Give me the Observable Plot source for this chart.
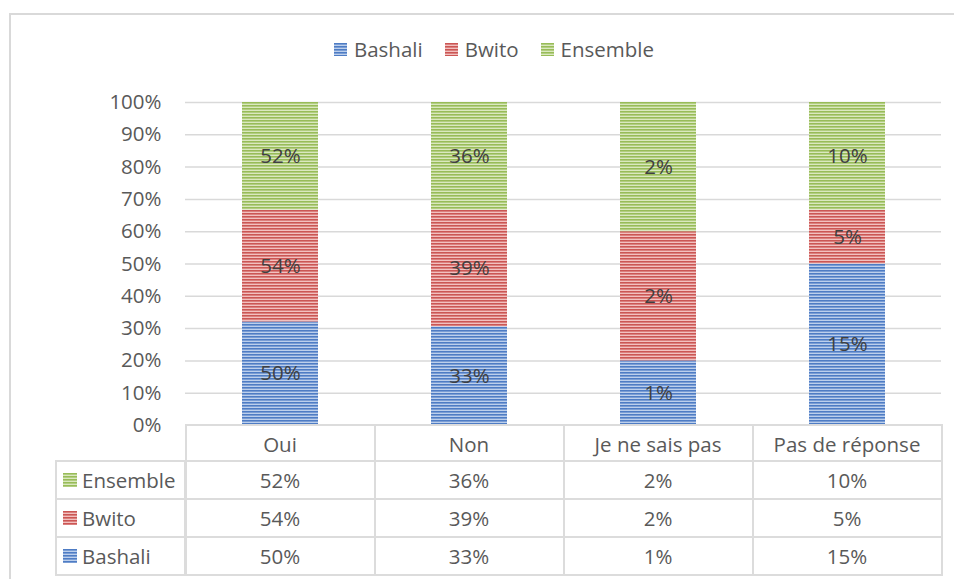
<!DOCTYPE html>
<html>
<head>
<meta charset="utf-8">
<script src="https://cdn.jsdelivr.net/npm/d3@7"></script>
<script src="https://cdn.jsdelivr.net/npm/@observablehq/plot@0.6"></script>
<style>
  html, body { margin: 0; padding: 0; background: #fff; }
  body { font-family: "Open Sans", "Liberation Sans", sans-serif; color: #595959; }
  #wrap { position: relative; width: 954px; height: 579px; overflow: hidden; }
  #frame { position: absolute; left: 9px; top: 13px; width: 960px; height: 600px; border-left: 2px solid #d9d9d9; border-top: 2px solid #d9d9d9; box-sizing: border-box; }
  #legend { position: absolute; top: 35px; left: 0; width: 988px; display: flex; justify-content: center; gap: 22px; font-size: 20.5px; }
  #legend .item { display: flex; align-items: center; gap: 7px; }
  #chart { position: absolute; left: 0; top: 0; }
  .cell { position: absolute; box-sizing: border-box; border: 2px solid #dcdcdc; display: flex; align-items: center; justify-content: center; font-size: 20.5px; color: #595959; background: #fff; }
  .cell.lab { justify-content: flex-start; padding-left: 6px; gap: 5px; }
  svg.sw { flex: none; }
</style>
</head>
<body>
<div id="wrap">
  <div id="frame"></div>
  <div id="legend"></div>
  <div id="chart"></div>
  <div id="table"></div>
</div>
<script>
// ---- data ----
const categories = ["Oui", "Non", "Je ne sais pas", "Pas de réponse"];
const seriesNames = ["Bashali", "Bwito", "Ensemble"];
const bashali = [50, 33, 1, 15];
const bwito = [54, 39, 2, 5];
const ensemble = [52, 36, 2, 10];
const yTicks = [0, 0.1, 0.2, 0.3, 0.4, 0.5, 0.6, 0.7, 0.8, 0.9, 1];

const seriesValues = {Bashali: bashali, Bwito: bwito, Ensemble: ensemble};
const colors = {
  Bashali: {dark: "#4e7cc4", light: "#bccfec", id: "pBashali"},
  Bwito: {dark: "#cb5654", light: "#f2c0bf", id: "pBwito"},
  Ensemble: {dark: "#98bc58", light: "#dae8bf", id: "pEnsemble"}
};

const data = [];
categories.forEach((c, i) => {
  seriesNames.forEach(s => data.push({category: c, series: s, value: seriesValues[s][i]}));
});

function patternDefs(prefix) {
  return seriesNames.map(s => {
    const c = colors[s];
    return `<pattern id="${prefix}${c.id}" patternUnits="userSpaceOnUse" width="6" height="3">
      <rect width="6" height="3" fill="${c.light}"/>
      <rect width="6" height="1.6" fill="${c.dark}"/>
    </pattern>`;
  }).join("");
}

const chart = Plot.plot({
  width: 954,
  height: 440,
  marginLeft: 185,
  marginRight: 13,
  marginTop: 102,
  marginBottom: 15,
  style: {fontFamily: "Open Sans, sans-serif", fontSize: "20.5px", color: "#595959", background: "transparent"},
  x: {domain: categories, paddingInner: 0.6, paddingOuter: 0.3, axis: null},
  y: {domain: [0, 1], ticks: yTicks, tickFormat: d => Math.round(d * 100) + "%", tickSize: 0, tickPadding: 24, label: null, grid: false},
  color: {domain: seriesNames, range: seriesNames.map(s => `url(#${colors[s].id})`)},
  marks: [
    Plot.ruleY(yTicks, {stroke: "#d9d9d9", strokeWidth: 1.5}),
    Plot.barY(data, Plot.stackY({x: "category", y: "value", fill: "series", z: "series", offset: "normalize", order: null})),
    Plot.text(data, Plot.stackY({x: "category", y: "value", z: "series", offset: "normalize", order: null, text: d => d.value + "%", fill: "#404040", fontSize: 20.5})),
    Plot.ruleY([0], {stroke: "#d0d0d0", strokeWidth: 2})
  ]
});
const defs = document.createElementNS("http://www.w3.org/2000/svg", "defs");
defs.innerHTML = patternDefs("");
chart.insertBefore(defs, chart.firstChild);
document.getElementById("chart").appendChild(chart);

function swatch(s, size) {
  const c = colors[s];
  return `<svg class="sw" width="${size}" height="${size}" viewBox="0 0 ${size} ${size}">
    <defs><pattern id="sw${c.id}${size}" patternUnits="userSpaceOnUse" width="6" height="3"><rect width="6" height="3" fill="${c.light}"/><rect width="6" height="1.6" fill="${c.dark}"/></pattern></defs>
    <rect width="${size}" height="${size}" fill="url(#sw${c.id}${size})"/></svg>`;
}

// legend
const legend = document.getElementById("legend");
seriesNames.forEach(s => {
  const it = document.createElement("div");
  it.className = "item";
  it.innerHTML = swatch(s, 13) + `<span>${s}</span>`;
  legend.appendChild(it);
});

// data table, columns aligned with the x scale
const xs = chart.scale("x");
const step = xs.apply(categories[1]) - xs.apply(categories[0]);
const bw = xs.bandwidth;
const table = document.getElementById("table");
const rowTop = [424, 461, 499, 537];
const rowH = [39, 40, 40, 40];
function cell(x, y, w, h, html, cls) {
  const d = document.createElement("div");
  d.className = "cell" + (cls ? " " + cls : "");
  Object.assign(d.style, {left: x + "px", top: y + "px", width: w + "px", height: h + "px"});
  d.innerHTML = html;
  table.appendChild(d);
}
categories.forEach((c, i) => {
  const left = xs.apply(c) + bw / 2 - step / 2 - 1;
  cell(left, rowTop[0], step + 2, rowH[0], c);
});
const tableRows = ["Ensemble", "Bwito", "Bashali"];
tableRows.forEach((s, r) => {
  cell(55, rowTop[r + 1] - 1, 184 - 55 + 2, rowH[r + 1], swatch(s, 14) + `<span>${s}</span>`, "lab");
  categories.forEach((c, i) => {
    const left = xs.apply(c) + bw / 2 - step / 2 - 1;
    cell(left, rowTop[r + 1] - 1, step + 2, rowH[r + 1], seriesValues[s][i] + "%");
  });
});
</script>
</body>
</html>
